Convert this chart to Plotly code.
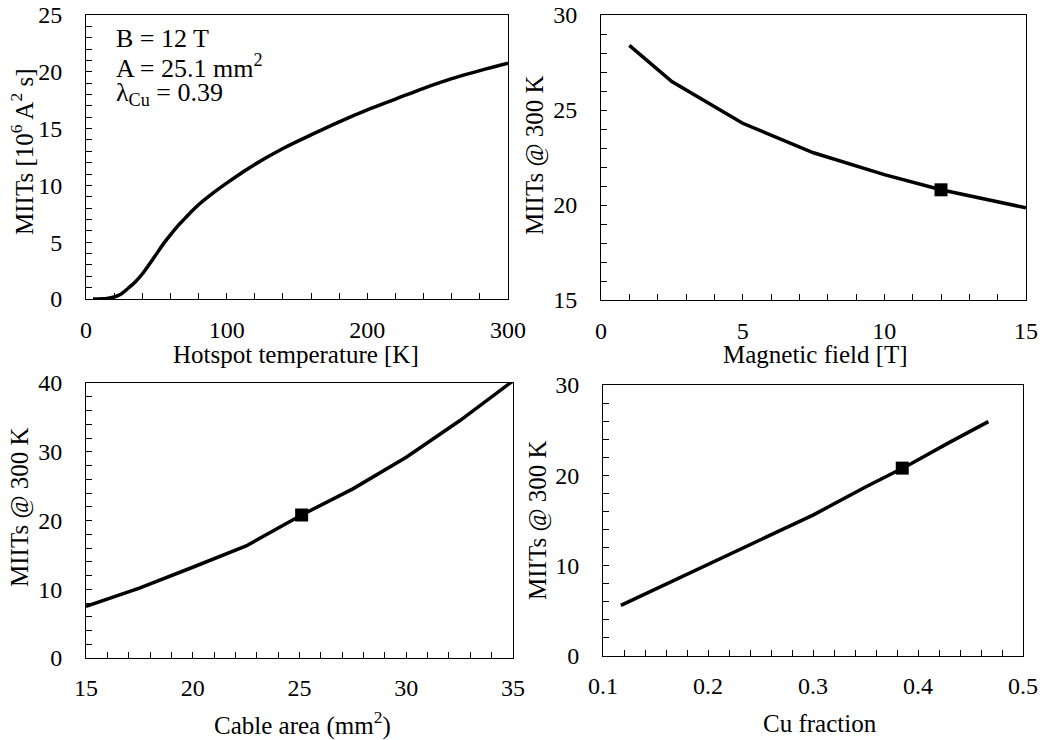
import plotly.graph_objects as go

# ---- data ----
temp_K = [5, 10, 15, 20, 25, 30, 35, 40, 45, 50, 55, 60, 65, 70, 75, 80, 90, 100, 110, 120, 140, 160, 180, 200,
          220, 240, 260, 280, 300]
miits_temp = [0.0, 0.01, 0.05, 0.18, 0.45, 0.95, 1.5, 2.2, 3.05, 3.95, 4.85, 5.65, 6.4, 7.05, 7.7, 8.3, 9.3,
              10.2, 11.05, 11.85, 13.25, 14.45, 15.6, 16.65, 17.6, 18.55, 19.4, 20.1, 20.75]

field_T = [1, 2.5, 5, 7.5, 10, 12, 15]
miits_field = [28.4, 26.5, 24.3, 22.75, 21.6, 20.8, 19.85]

area_mm2 = [15, 17.5, 20, 22.5, 25.1, 27.5, 30, 32.5, 35]
miits_area = [7.5, 10.15, 13.2, 16.3, 20.8, 24.6, 29.2, 34.5, 40.3]

cu_frac = [0.117, 0.15, 0.2, 0.25, 0.3, 0.35, 0.389, 0.43, 0.467]
miits_cu = [5.6, 7.4, 10.05, 12.85, 15.6, 18.7, 21.0, 23.65, 25.95]

ref_field, ref_area, ref_cu, ref_miits = 12, 25.1, 0.385, 20.8

FONT = "Liberation Serif"
W, H = 1043, 740

fig = go.Figure()
line = dict(color="black", width=3.5)
mk = dict(symbol="square", size=13, color="black")

fig.add_trace(go.Scatter(x=temp_K, y=miits_temp, mode="lines", line=dict(color="black", width=3.5, shape="spline"),
                         xaxis="x", yaxis="y"))
fig.add_trace(go.Scatter(x=field_T, y=miits_field, mode="lines", line=line, xaxis="x2", yaxis="y2"))
fig.add_trace(go.Scatter(x=[ref_field], y=[ref_miits], mode="markers", marker=mk, xaxis="x2", yaxis="y2"))
fig.add_trace(go.Scatter(x=area_mm2, y=miits_area, mode="lines", line=line, xaxis="x3", yaxis="y3"))
fig.add_trace(go.Scatter(x=[ref_area], y=[ref_miits], mode="markers", marker=mk, xaxis="x3", yaxis="y3"))
fig.add_trace(go.Scatter(x=cu_frac, y=miits_cu, mode="lines", line=line, xaxis="x4", yaxis="y4"))
fig.add_trace(go.Scatter(x=[ref_cu], y=[ref_miits], mode="markers", marker=mk, xaxis="x4", yaxis="y4"))


def px_dom_x(a, b):
    return [a / W, b / W]


def px_dom_y(top, bot):
    return [1 - bot / H, 1 - top / H]


def ax(dom, rng, dtick, minor_dtick, anchor):
    return dict(domain=dom, range=rng, dtick=dtick, tick0=rng[0], showgrid=False, zeroline=False,
                showline=True, linecolor="black", linewidth=1, mirror=True,
                ticks="inside", ticklen=6, tickcolor="black", tickwidth=1,
                minor=dict(dtick=minor_dtick, ticks="inside", ticklen=6, tickcolor="black", showgrid=False),
                tickfont=dict(family=FONT, size=24, color="black"), anchor=anchor,
                automargin=False, fixedrange=True)


layout = dict(
    template="none",
    width=W, height=H, margin=dict(l=0, r=0, t=0, b=0), showlegend=False,
    paper_bgcolor="white", plot_bgcolor="white", font=dict(family=FONT, size=24, color="black"),
    xaxis=ax(px_dom_x(86, 508), [0, 300], 100, 20, "y"),
    yaxis=ax(px_dom_y(15, 299), [0, 25], 5, 1, "x"),
    xaxis2=ax(px_dom_x(601, 1026), [0, 15], 5, 1, "y2"),
    yaxis2=ax(px_dom_y(15, 300), [15, 30], 5, 1, "x2"),
    xaxis3=ax(px_dom_x(86, 513), [15, 35], 5, 1, "y3"),
    yaxis3=ax(px_dom_y(383, 658), [0, 40], 10, 2, "x3"),
    xaxis4=ax(px_dom_x(603, 1023), [0.1, 0.5], 0.1, 0.02, "y4"),
    yaxis4=ax(px_dom_y(385, 656), [0, 30], 10, 2, "x4"),
)
for k in ["yaxis", "yaxis2", "yaxis3", "yaxis4"]:
    layout[k]["ticklabelstandoff"] = 18
for k in ["xaxis", "xaxis2"]:
    layout[k]["ticklabelstandoff"] = 9
for k in ["xaxis3", "xaxis4"]:
    layout[k]["ticklabelstandoff"] = 8
layout["xaxis4"]["tickformat"] = ".1f"
fig.update_layout(**layout)


def ann(text, x, y, size=25, angle=0, xanchor="center", yanchor="middle"):
    fig.add_annotation(text=text, x=x / W, y=1 - y / H, xref="paper", yref="paper", showarrow=False,
                       textangle=angle, font=dict(family=FONT, size=size, color="black"),
                       xanchor=xanchor, yanchor=yanchor)


# axis titles
ann("Hotspot temperature [K]", 296, 354)
ann("MIITs [10<sup>6</sup> A<sup>2</sup> s]", 22, 152, angle=-90)
ann("Magnetic field [T]", 815, 354)
ann("MIITs @ 300 K", 535, 156, angle=-90)
ann("Cable area (mm<sup>2</sup>)", 302, 723)
ann("MIITs @ 300 K", 20, 508, angle=-90)
ann("Cu fraction", 820, 723)
ann("MIITs @ 300 K", 538, 521, angle=-90)

# parameter annotation
ann("B = 12 T", 114, 38, size=26, xanchor="left")
ann("A = 25.1 mm<sup>2</sup>", 114, 67, size=26, xanchor="left")
ann("λ<sub>Cu</sub> = 0.39", 114, 94, size=26, xanchor="left")

fig.write_html("out.html")
